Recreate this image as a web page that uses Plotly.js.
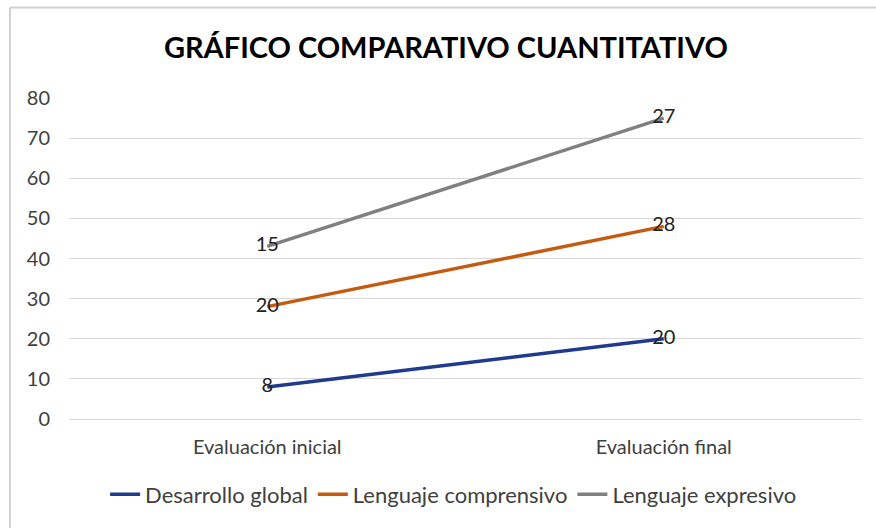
<!DOCTYPE html>
<html>
<head>
<meta charset="utf-8">
<script src="https://cdn.plot.ly/plotly-3.0.1.min.js"></script>
<style>html,body{margin:0;padding:0;background:#fff;}#chart{width:876px;height:528px;}</style>
</head>
<body>
<div id="chart"></div>
<script>
const categories = ["Evaluación inicial", "Evaluación final"];
const seriesNames = ["Desarrollo global", "Lenguaje comprensivo", "Lenguaje expresivo"];
const desarrolloGlobal = [8, 20];
const lenguajeComprensivo = [20, 28];
const lenguajeExpresivo = [15, 27];
const yTicks = [0, 10, 20, 30, 40, 50, 60, 70, 80];
const colors = ["#1f3a8f", "#c55a11", "#808080"];
const FONT = "Lato, 'Open Sans', sans-serif";

const seriesValues = [desarrolloGlobal, lenguajeComprensivo, lenguajeExpresivo];
const traces = seriesValues.map((vals, i) => ({
  type: "scatter",
  mode: "lines+text",
  x: categories,
  y: vals,
  stackgroup: "one",
  fill: "none",
  name: seriesNames[i],
  text: vals.map(String),
  textposition: "middle center",
  textfont: {family: FONT, size: 20, color: "#222"},
  line: {color: colors[i], width: 3.5},
  hoverinfo: "skip"
}));

const layout = {
  width: 876, height: 528,
  margin: {l: 69, r: 14, t: 98, b: 107},
  paper_bgcolor: "#fff", plot_bgcolor: "#fff",
  font: {family: FONT, size: 20, color: "#404040"},
  title: {text: "<b>GRÁFICO COMPARATIVO CUANTITATIVO</b>", x: 0.509, xanchor: "center", y: 0.91, yanchor: "middle",
          font: {family: FONT, size: 29, color: "#000"}},
  xaxis: {type: "category", range: [-0.5, 1.5], showgrid: false, zeroline: false, showline: false,
          ticks: "", ticklabelstandoff: 14, tickfont: {family: FONT, size: 20, color: "#404040"}},
  yaxis: {range: [0, 80], tickvals: yTicks, showgrid: true, gridcolor: "#d9d9d9", gridwidth: 1,
          zeroline: true, zerolinecolor: "#d9d9d9", zerolinewidth: 1, showline: false, ticks: "",
          ticklabelstandoff: 18, tickfont: {family: FONT, size: 20, color: "#404040"}},
  showlegend: true,
  legend: {orientation: "h", x: 0.485, xanchor: "center", y: -0.235, yanchor: "middle",
           font: {family: FONT, size: 22, color: "#404040"}, traceorder: "normal"},
  shapes: [
    {type: "line", xref: "paper", yref: "paper", x0: -0.0744, x1: 1.02, y0: 1.0 + 91/323, y1: 1.0 + 91/323, line: {color: "#d0d0d0", width: 2}},
    {type: "line", xref: "paper", yref: "paper", x0: -0.0744, x1: -0.0744, y0: 1.0 + 91/323, y1: -0.35, line: {color: "#d0d0d0", width: 2}}
  ]
};

Plotly.newPlot("chart", traces, layout, {displayModeBar: false, staticPlot: true});
</script>
</body>
</html>
